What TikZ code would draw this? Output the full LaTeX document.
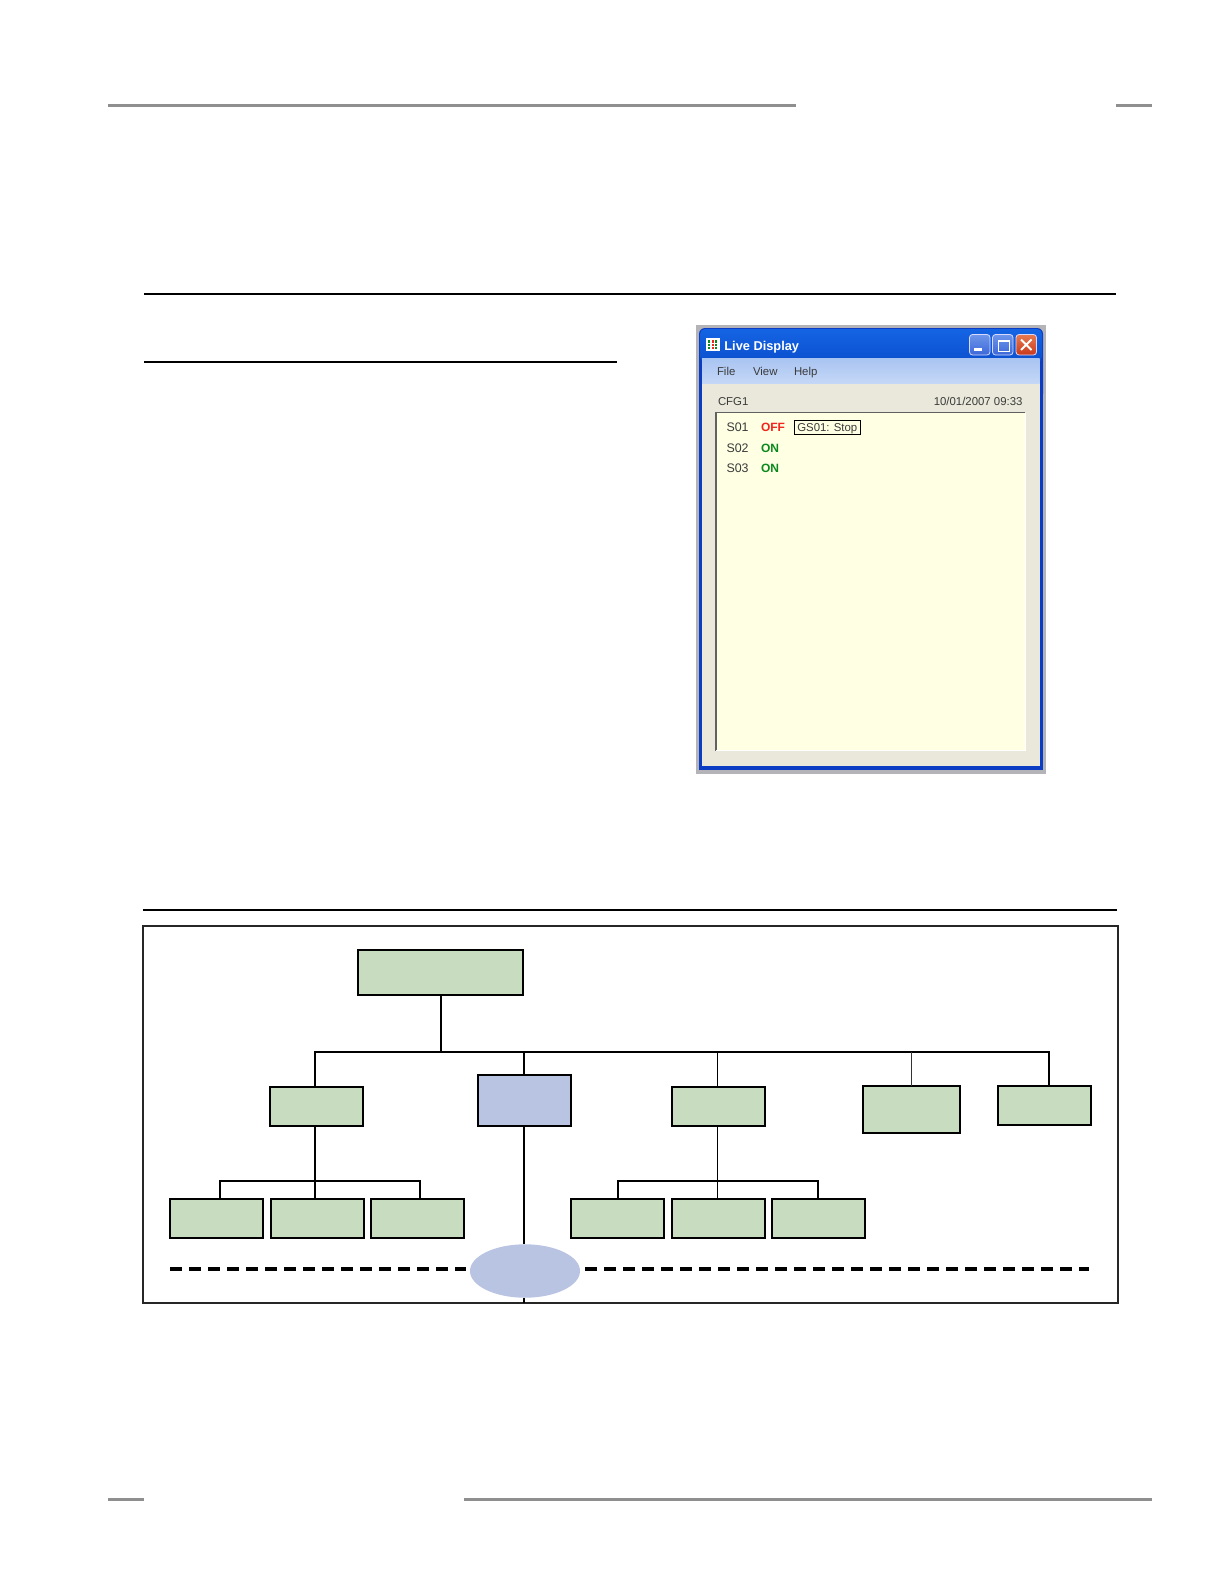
\documentclass[tikz,border=0pt]{standalone}
\usepackage{fontspec}
\setmainfont{Liberation Sans}
\usetikzlibrary{shapes.geometric}
\definecolor{boxgreen}{HTML}{C8DDBF}
\definecolor{boxblue}{HTML}{B9C3E2}
\definecolor{rulegrey}{HTML}{8F8F8F}
\definecolor{winedge}{HTML}{B4B4B8}
\definecolor{winblue}{HTML}{0A3DC4}
\definecolor{wintitletop}{HTML}{1464E4}
\definecolor{wintitlebot}{HTML}{0C50CE}
\definecolor{winface}{HTML}{E9E8DA}
\definecolor{wincream}{HTML}{FFFFE3}
\definecolor{menutop}{HTML}{A9C4F2}
\definecolor{menubot}{HTML}{C4D7F6}
\definecolor{offred}{HTML}{F0261E}
\definecolor{ongreen}{HTML}{0A8A1E}
\definecolor{wintext}{HTML}{3A3A3A}
\definecolor{btnlight}{HTML}{6E96EA}
\definecolor{btndark}{HTML}{3C68D8}
\definecolor{btnredlight}{HTML}{E87A50}
\definecolor{btnreddark}{HTML}{C83A1C}
\tikzset{
  greenbox/.style={draw=black,line width=1pt,fill=boxgreen,inner sep=0pt,outer sep=0pt,anchor=north west},
  bluebox/.style={greenbox,fill=boxblue},
  link/.style={draw=black,line width=1pt},
  thinlink/.style={draw=black,line width=.5pt},
  dashlink/.style={draw=black,line width=2.2pt,dash pattern=on 5.8pt off 3.7pt},
  headrule/.style={draw=rulegrey,line width=1.5pt},
  blackrule/.style={draw=black,line width=.8pt},
  wintxt/.style={font=\fontsize{5.7}{6}\selectfont,text=wintext,inner sep=0pt,outer sep=0pt},
  sotxt/.style={wintxt,font=\fontsize{6.2}{6}\selectfont,anchor=base west},
  statetxt/.style={font=\fontsize{6}{6}\selectfont\bfseries,inner sep=0pt,outer sep=0pt,anchor=base west},
  winbtn/.style={rounded corners=1.5pt,draw=white!85!blue,line width=.4pt}
}
\newcommand{\bx}[6]{\node[#6,minimum width={(#4-#2-.6)*0.5pt},minimum height={(#5-#3-.6)*0.5pt}] (#1) at (#2+.3,#3+.3) {};}
\begin{document}
\begin{tikzpicture}[x=0.5pt,y=-0.5pt]
\useasboundingbox (0,0) rectangle (1224,1584);
\fill[white] (0,0) rectangle (1224,1584);
% page rules
\draw[headrule] (108,105.7) -- (796,105.7);
\draw[headrule] (1116,105.7) -- (1152,105.7);
\draw[headrule] (108,1499) -- (144,1499);
\draw[headrule] (464,1499) -- (1152,1499);
\draw[blackrule] (144,294) -- (1116,294);
\draw[blackrule] (144,362) -- (617,362);
\draw[blackrule] (142.5,910) -- (1117,910);
% window
\fill[winedge] (696,325) rectangle (1046,773.5);
\fill[winblue,rounded corners=3pt] (699,328) rectangle (1043,400);
\fill[winblue] (699,350) rectangle (1043,770);
\shade[top color=wintitletop,bottom color=wintitlebot,rounded corners=2.5pt] (700,329) rectangle (1042,362);
\fill[winface] (702,383) rectangle (1039.5,766);
\shade[top color=menutop,bottom color=menubot] (702,358) rectangle (1039.5,383);
\fill[wincream] (716,412.5) rectangle (1025,750.5);
\draw[wintext!80,line width=.6pt] (716,750.5) -- (716,412.5) -- (1025,412.5);
\draw[white,line width=.5pt] (716,750.5) -- (1025,750.5) -- (1025,412.5);
% window icon
\fill[white] (706,338) rectangle (719.5,351);
\fill[ongreen] (708,340) rectangle (710,349);
\fill[offred] (711.5,340) rectangle (713.5,349);
\fill[ongreen] (715,340) rectangle (717,349);
\draw[white,line width=.5pt] (706,343) -- (719.5,343) (706,346) -- (719.5,346);
% window buttons
\shade[winbtn,top color=btnlight,bottom color=btndark] (969.5,334.5) rectangle (990,355);
\fill[white] (973.5,347.5) rectangle (982,351);
\shade[winbtn,top color=btnlight,bottom color=btndark] (992.5,334.5) rectangle (1013,355);
\draw[white,line width=.5pt] (998,340) rectangle (1009,351);
\draw[white,line width=1pt] (998,340.5) -- (1009,340.5);
\shade[winbtn,top color=btnredlight,bottom color=btnreddark] (1016,334.5) rectangle (1036.5,355);
\draw[white,line width=1pt] (1021,339.5) -- (1031.5,350) (1031.5,339.5) -- (1021,350);
% window texts
\node[font=\fontsize{6.4}{7}\selectfont\bfseries,text=white,inner sep=0pt,anchor=base west] (wtitle) at (724,350) {Live Display};
\node[wintxt,anchor=base west] (mfile) at (717,375) {File};
\node[wintxt,anchor=base west] (mview) at (753,375) {View};
\node[wintxt,anchor=base west] (mhelp) at (794,375) {Help};
\node[wintxt,anchor=base west] (cfg) at (718,405.5) {CFG1};
\node[wintxt,anchor=base east] (stamp) at (1022.5,405.5) {10/01/2007 09:33};
\node[sotxt] (so1) at (726.5,431.7) {S01};
\node[sotxt] (so2) at (726.5,452.7) {S02};
\node[sotxt] (so3) at (726.5,472.7) {S03};
\node[statetxt,text=offred] (st1) at (761,431.7) {OFF};
\node[statetxt,text=ongreen] (st2) at (761,452.7) {ON};
\node[statetxt,text=ongreen] (st3) at (761,472.7) {ON};
\node[wintxt,draw=black,line width=.5pt,fill=wincream,minimum width=33.3pt,minimum height=7pt,text height=5.4pt,text depth=1pt,text=wintext] (gs) at (827.3,427.3) {GS01: Stop};
% diagram frame
\node[draw=black!85,line width=1pt,fill=white,inner sep=0pt,outer sep=0pt,anchor=north west,minimum width={(1118-143)*0.5pt},minimum height={(1303-926)*0.5pt}] (frame) at (143,926) {};
% bus coordinates
\coordinate (busL) at (315,1052);
\coordinate (busR) at (1049,1052);
\coordinate (brLl) at (220,1181);
\coordinate (brLr) at (420,1181);
\coordinate (brRl) at (618,1181);
\coordinate (brRr) at (818,1181);
% boxes
\bx{top}{357.5}{950}{523.5}{995}{greenbox}
\bx{aa}{270}{1087}{363.5}{1126}{greenbox}
\bx{bb}{478}{1075}{571.5}{1126}{bluebox}
\bx{cc}{671.5}{1087}{765.5}{1126}{greenbox}
\bx{dd}{862.5}{1086}{960.5}{1133}{greenbox,line width=.85pt}
\bx{ee}{998}{1086}{1091.5}{1125.5}{greenbox}
\bx{a1}{170}{1199}{263}{1238}{greenbox}
\bx{a2}{271}{1199}{364}{1238}{greenbox}
\bx{a3}{371}{1199}{464}{1238}{greenbox}
\bx{c1}{571}{1199}{664.5}{1238}{greenbox}
\bx{c2}{671.5}{1199}{765.5}{1238}{greenbox}
\bx{c3}{772}{1199}{865.5}{1238}{greenbox}
\node[ellipse,fill=boxblue,draw=none,inner sep=0pt,outer sep=0pt,minimum width=55pt,minimum height=26.7pt] (oval) at (525,1271) {};
% connectors
\draw[link,line cap=rect] (busL) -- (busR);
\draw[link] (busL) -- (busL |- aa.north);
\draw[link] (busR) -- (busR |- ee.north);
\draw[link] (top.south -| 441,0) -- (441,0 |- busL);
\draw[link] (524,0 |- busL) -- (524,0 |- bb.north);
\draw[thinlink] (717.5,0 |- busL) -- (717.5,0 |- cc.north);
\draw[draw=black!80,line width=.75pt] (911.5,0 |- busL) -- (911.5,0 |- dd.north);
% lower branches
\draw[link] (315,0 |- aa.south) -- (315,0 |- a2.north);
\draw[link] (a1.north -| brLl) -- (brLl) -- (brLr) -- (a3.north -| brLr);
\draw[thinlink] (717.5,0 |- cc.south) -- (717.5,0 |- c2.north);
\draw[link] (c1.north -| brRl) -- (brRl) -- (brRr) -- (c3.north -| brRr);
\draw[link] (524,0 |- bb.south) -- (oval.north -| 524,0);
\draw[link] (oval.south -| 524,0) -- (frame.south -| 524,0);
% dashed level line
\coordinate (dashA) at (170,1269);
\coordinate (dashB) at (1088.5,1269);
\draw[dashlink] (dashA) -- (466,1269);
\draw[dashlink] (585,1269) -- (dashB);
\end{tikzpicture}
\end{document}
